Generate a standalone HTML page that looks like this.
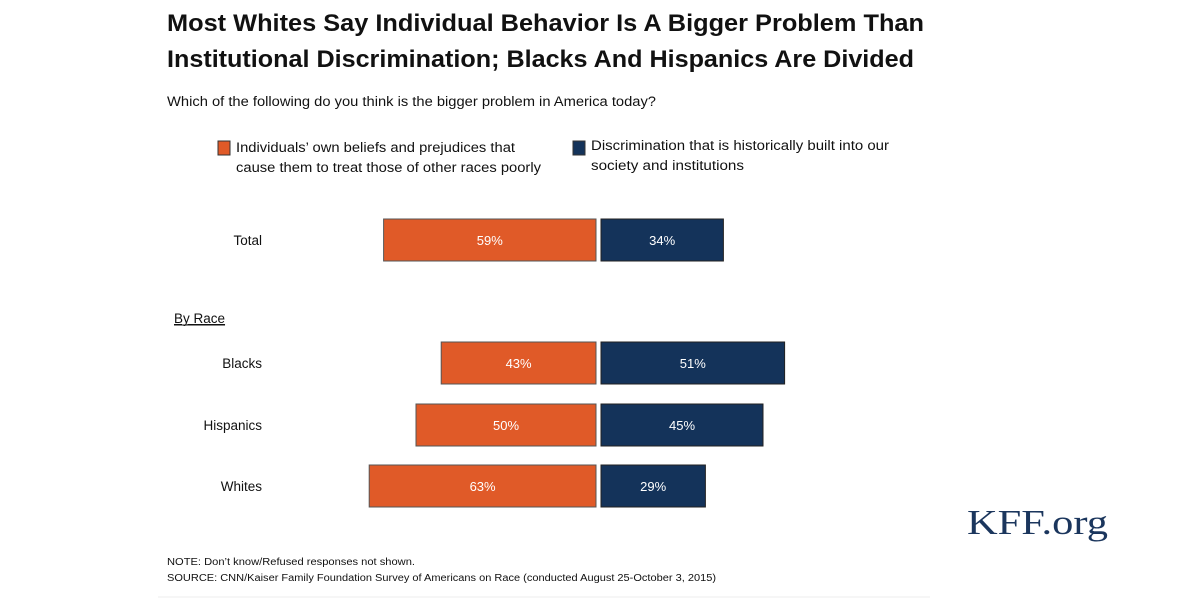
<!DOCTYPE html>
<html><head><meta charset="utf-8"><style>
html,body{margin:0;padding:0;background:#fff;}
svg{display:block;font-family:"Liberation Sans",sans-serif;}
</style></head><body>
<svg width="1200" height="599" viewBox="0 0 1200 599">
<text x="167" y="31" font-size="24" font-weight="bold" fill="#111" textLength="757" lengthAdjust="spacingAndGlyphs">Most Whites Say Individual Behavior Is A Bigger Problem Than</text>
<text x="167" y="67" font-size="24" font-weight="bold" fill="#111" textLength="747" lengthAdjust="spacingAndGlyphs">Institutional Discrimination; Blacks And Hispanics Are Divided</text>
<text x="167" y="106" font-size="13.5" fill="#111" textLength="489" lengthAdjust="spacingAndGlyphs">Which of the following do you think is the bigger problem in America today?</text>
<g>
<rect x="218" y="141" width="12" height="14" fill="#e05a28" stroke="#333" stroke-width="1"/>
<text x="236" y="152" font-size="13.5" fill="#111" textLength="279" lengthAdjust="spacingAndGlyphs">Individuals’ own beliefs and prejudices that</text>
<text x="236" y="172" font-size="13.5" fill="#111" textLength="305" lengthAdjust="spacingAndGlyphs">cause them to treat those of other races poorly</text>
<rect x="573" y="141" width="12" height="14" fill="#14335a" stroke="#333" stroke-width="1"/>
<text x="591" y="150" font-size="13.5" fill="#111" textLength="298" lengthAdjust="spacingAndGlyphs">Discrimination that is historically built into our</text>
<text x="591" y="170" font-size="13.5" fill="#111" textLength="153" lengthAdjust="spacingAndGlyphs">society and institutions</text>
</g>
<text x="174" y="323" font-size="13.5" fill="#111" text-decoration="underline">By Race</text>
<line x1="174" y1="325" x2="225" y2="325" stroke="#111" stroke-width="1"/>
<g id="bars"></g>
<text x="167" y="565" font-size="10" fill="#111" textLength="248" lengthAdjust="spacingAndGlyphs">NOTE: Don’t know/Refused responses not shown.</text>
<text x="167" y="581" font-size="10" fill="#111" textLength="549" lengthAdjust="spacingAndGlyphs">SOURCE: CNN/Kaiser Family Foundation Survey of Americans on Race (conducted August 25-October 3, 2015)</text>
<line x1="158" y1="597" x2="930" y2="597" stroke="#eee" stroke-width="1"/>
<text x="967" y="534" font-family="Liberation Serif, serif" font-size="35" fill="#1b365d" textLength="141" lengthAdjust="spacingAndGlyphs">KFF.org</text>
</svg>
<script>
const categories = ["Total", "Blacks", "Hispanics", "Whites"];
const individualValues = [59, 43, 50, 63];
const discriminationValues = [34, 51, 45, 29];
const rowTops = [219, 342, 404, 465];
const center = 598.5, gap = 2.5, scale = 3.6, barH = 42;
const x = v => v * scale;
const g = document.getElementById('bars');
const NS = 'http://www.w3.org/2000/svg';
function mk(tag, attrs){const e=document.createElementNS(NS,tag);for(const k in attrs)e.setAttribute(k,attrs[k]);return e;}
categories.forEach((c,i)=>{
  const y = rowTops[i];
  const lab = mk('text',{x:262,y:y+barH/2+5,'font-size':13.5,fill:'#111','text-anchor':'end'});
  lab.textContent = c;
  
  
  g.appendChild(lab);
  const w1 = x(individualValues[i]);
  const r1 = mk('rect',{x:center-gap-w1,y:y,width:w1,height:barH,fill:'#e05a28',stroke:'#555','stroke-width':1});
  
  
  g.appendChild(r1);
  const t1 = mk('text',{x:center-gap-w1/2,y:y+barH/2+5,'font-size':13,fill:'#fff','text-anchor':'middle'});
  t1.textContent = individualValues[i]+'%';
  
  
  g.appendChild(t1);
  const w2 = x(discriminationValues[i]);
  const r2 = mk('rect',{x:center+gap,y:y,width:w2,height:barH,fill:'#14335a',stroke:'#222','stroke-width':1});
  
  
  g.appendChild(r2);
  const t2 = mk('text',{x:center+gap+w2/2,y:y+barH/2+5,'font-size':13,fill:'#fff','text-anchor':'middle'});
  t2.textContent = discriminationValues[i]+'%';
  
  
  g.appendChild(t2);
});
</script>
</body></html>
